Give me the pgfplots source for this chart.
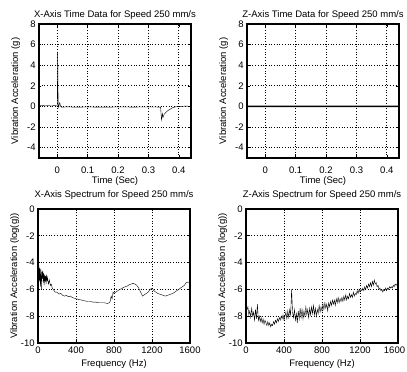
\documentclass[border=0pt]{standalone}
\usepackage{fontspec}
\setmainfont{Liberation Sans}
\usepackage{pgfplots}
\pgfplotsset{compat=1.18}
\pgfplotsset{
  mat/.style={
    scale only axis, width=152pt, height=134pt, anchor=south west,
    grid=major,
    major grid style={black, line width=0.8pt, dash pattern=on 0.9pt off 1.8pt},
    tick align=inside, major tick length=2.5pt,
    tick style={black, line width=0.6pt},
    axis line style={black, line width=1.1pt},
    every axis y label/.style={at={(axis description cs:-0.138,0.5)}, rotate=90, anchor=base},
    cycle list={{black, line width=1pt}},
    no markers,
  },
  toprow/.style={
    xmin=-0.06, xmax=0.44, ymin=-5, ymax=8,
    xtick={0,0.1,0.2,0.3,0.4}, xticklabels={0,0.1,0.2,0.3,0.4},
    ytick={-4,-2,0,2,4,6,8}, yticklabels={-4,-2,0,2,4,6,8},
    xticklabel style={anchor=base, yshift=-15.5pt},
    every axis x label/.style={at={(axis description cs:0.5,-0.19)}, anchor=base},
    every axis title/.style={at={(axis description cs:0.5,1.049)}, anchor=base},
    xlabel={Time (Sec)}, ylabel={Vibration Acceleration (g)},
  },
  botrow/.style={
    xmin=0, xmax=1600, ymin=-10, ymax=0,
    xtick={0,400,800,1200,1600}, xticklabels={0,400,800,1200,1600},
    ytick={-10,-8,-6,-4,-2,0}, yticklabels={-10,-8,-6,-4,-2,0},
    xticklabel style={anchor=base, yshift=-10.5pt},
    every axis x label/.style={at={(axis description cs:0.5,-0.175)}, anchor=base},
    every axis title/.style={at={(axis description cs:0.5,1.087)}, anchor=base},
    xlabel={Frequency (Hz)}, ylabel={Vibration Acceleration (log(g))},
  },
}
\begin{document}
\fontsize{9.5}{11}\selectfont
\begin{tikzpicture}
\useasboundingbox (0,0) rectangle (407pt,372pt);
% ---------- top left ----------
\begin{axis}[mat, toprow, at={(39pt,214pt)}, title={X-Axis Time Data for Speed 250 mm/s}]
\addplot coordinates {(-0.06,0.08) (-0.05,0.12) (-0.04,0.05) (-0.03,0.1) (-0.02,0.04) (-0.01,0.09) (-0.002,0.06) (0.0,0.1) (0.0015,5.2) (0.003,0.2) (0.005,-0.1) (0.007,0.35) (0.009,0.3) (0.011,0.0) (0.015,-0.08) (0.03,-0.04) (0.06,-0.07) (0.1,-0.05) (0.15,-0.07) (0.2,-0.05) (0.25,-0.06) (0.3,-0.05) (0.34,-0.06) (0.343,-1.3) (0.346,-0.7) (0.348,-1.05) (0.352,-0.75) (0.358,-0.55) (0.365,-0.38) (0.372,-0.25) (0.38,-0.12) (0.39,-0.04) (0.40,0.0) (0.42,0.03) (0.44,0.02)};
\end{axis}
% ---------- top right ----------
\begin{axis}[mat, toprow, at={(247pt,214pt)}, title={Z-Axis Time Data for Speed 250 mm/s}]
\addplot[black, line width=1.5pt] coordinates {(-0.06,0.02) (0.1,0.0) (0.2,0.02) (0.3,0.0) (0.44,0.01)};
\end{axis}
% ---------- bottom left ----------
\begin{axis}[mat, botrow, at={(38pt,29pt)}, title={X-Axis Spectrum for Speed 250 mm/s}]
\addplot coordinates {(0,-3.9) (5,-4.6) (10,-4.2) (15,-5.4) (20,-4.4) (25,-5.8) (30,-4.5) (35,-6.0) (40,-4.7) (45,-5.2) (50,-4.6) (55,-5.5) (60,-4.8) (65,-5.7) (70,-4.9) (75,-5.3) (80,-5.0) (85,-5.6) (90,-4.9) (95,-5.4) (100,-5.1) (110,-5.6) (120,-5.3) (130,-5.7) (140,-5.6) (150,-5.9) (160,-6.0) (180,-6.2) (200,-6.2) (220,-6.35) (240,-6.3) (260,-6.45) (280,-6.5) (300,-6.45) (320,-6.55) (340,-6.5) (360,-6.6) (380,-6.65) (400,-6.7) (430,-6.75) (460,-6.8) (490,-6.85) (520,-6.9) (550,-6.9) (580,-6.95) (610,-6.95) (640,-7.0) (670,-7.0) (700,-7.0) (730,-7.05) (750,-7.0) (760,-6.9) (770,-6.5) (780,-6.7) (790,-6.2) (800,-6.3) (820,-6.2) (840,-6.1) (860,-6.0) (880,-5.95) (900,-5.85) (920,-5.8) (940,-5.75) (960,-5.65) (980,-5.6) (1000,-5.55) (1020,-5.6) (1040,-5.7) (1060,-5.9) (1080,-6.2) (1100,-6.5) (1120,-6.4) (1140,-6.3) (1160,-6.2) (1180,-6.0) (1200,-5.9) (1220,-6.1) (1240,-6.2) (1260,-6.3) (1280,-6.35) (1300,-6.4) (1320,-6.45) (1340,-6.5) (1360,-6.45) (1380,-6.4) (1400,-6.35) (1420,-6.3) (1440,-6.2) (1460,-6.1) (1480,-6.0) (1500,-5.9) (1520,-5.8) (1540,-5.7) (1560,-5.5) (1580,-5.45) (1600,-5.5)};
\end{axis}
% ---------- bottom right ----------
\begin{axis}[mat, botrow, at={(246pt,29pt)}, title={Z-Axis Spectrum for Speed 250 mm/s},
  xticklabels={0,400,800,1200,{\kern-3.5pt 1600\kern3.5pt}}]
\addplot table {
x y
0 -7.2
10 -7.5
20 -7.3
30 -7.9
40 -7.6
50 -8.1
60 -7.4
70 -8.0
80 -7.7
90 -8.3
100 -7.5
110 -8.2
120 -7.1
130 -8.3
140 -8.0
150 -8.4
160 -8.1
170 -8.5
180 -8.2
190 -8.6
200 -8.3
210 -8.5
220 -8.7
230 -8.4
240 -8.7
250 -8.5
260 -8.8
270 -8.6
280 -8.7
290 -8.4
300 -8.6
310 -8.3
320 -8.5
330 -8.2
340 -8.4
350 -8.1
360 -8.3
370 -8.0
380 -8.2
390 -7.9
400 -8.3
410 -8.0
420 -7.7
430 -8.2
440 -7.6
450 -8.1
460 -7.5
470 -7.9
480 -6.0
490 -7.7
500 -8.1
510 -7.5
520 -8.3
530 -7.8
540 -8.5
550 -7.6
560 -8.2
570 -7.4
580 -8.1
590 -7.5
600 -8.2
610 -7.6
620 -8.0
630 -7.3
640 -7.9
650 -7.5
660 -8.1
670 -7.4
680 -7.9
690 -7.3
700 -7.8
710 -7.2
720 -7.9
730 -7.4
740 -8.0
750 -7.5
760 -7.8
770 -7.2
780 -7.7
790 -7.3
800 -7.6
810 -7.1
820 -7.5
830 -7.0
840 -7.4
850 -7.1
860 -7.6
870 -7.0
880 -7.3
890 -6.9
900 -7.2
910 -6.8
920 -7.1
930 -6.8
940 -7.2
950 -6.7
960 -7.0
970 -6.6
980 -7.0
990 -6.7
1000 -6.9
1010 -6.6
1020 -6.9
1030 -6.5
1040 -6.8
1050 -6.4
1060 -6.8
1070 -6.5
1080 -6.7
1090 -6.3
1100 -6.6
1110 -6.4
1120 -6.6
1130 -6.2
1140 -6.5
1150 -6.3
1160 -6.4
1170 -6.1
1180 -6.3
1190 -6.0
1200 -6.2
1210 -6.0
1220 -6.1
1230 -5.9
1240 -6.1
1250 -5.8
1260 -6.0
1270 -5.7
1280 -5.9
1290 -5.6
1300 -5.8
1310 -5.5
1320 -5.8
1330 -5.4
1340 -5.7
1350 -5.3
1360 -5.6
1370 -5.5
1380 -5.8
1390 -5.7
1400 -6.0
1410 -5.9
1420 -6.1
1430 -6.0
1440 -6.2
1450 -6.0
1460 -6.1
1470 -5.9
1480 -6.1
1490 -5.9
1500 -6.0
1510 -5.8
1520 -5.9
1530 -5.8
1540 -5.9
1550 -5.7
1560 -5.8
1570 -5.6
1580 -5.7
1590 -5.6
1600 -5.6
};
\end{axis}
\end{tikzpicture}
\end{document}
